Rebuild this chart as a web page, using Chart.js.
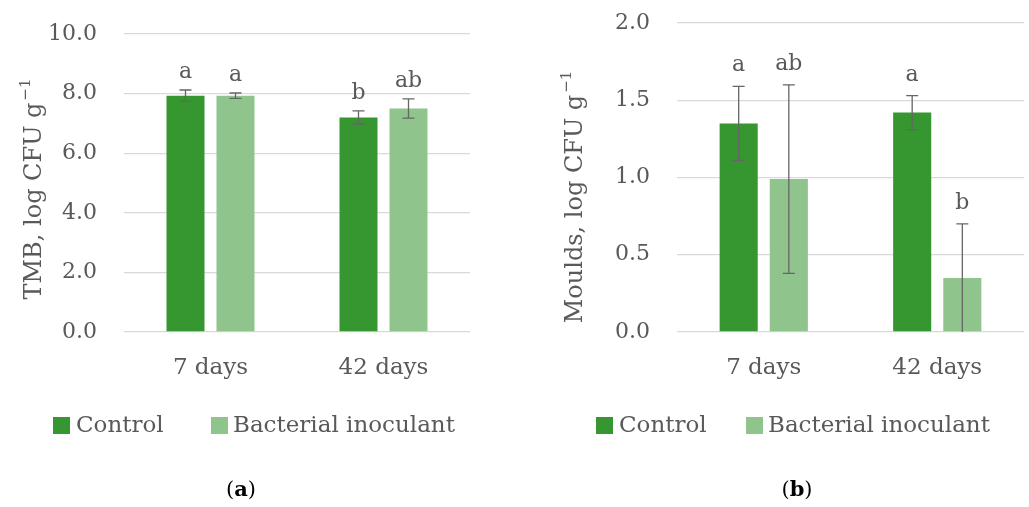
<!DOCTYPE html>
<html>
<head>
<meta charset="utf-8">
<title>TMB and moulds counts</title>
<script src="https://cdn.jsdelivr.net/npm/chart.js@4.4.1/dist/chart.umd.min.js"></script>
<style>
  html, body { margin: 0; padding: 0; background: #ffffff; }
  body { width: 1029px; height: 507px; position: relative; overflow: hidden; font-family: "DejaVu Serif", serif; }
  .panel { position: absolute; top: 0; }
  #wrapA { left: 0; width: 470px; height: 507px; }
  #wrapB { left: 545px; width: 479px; height: 507px; }
  .cap { position: absolute; top: 476px; font-size: 21px; color: #000; transform: translateX(-50%); white-space: nowrap; }
  .lg-box { position: absolute; top: 417px; width: 17px; height: 17px; }
  .lg-text { position: absolute; top: 410px; font-size: 23px; line-height: 28px; color: #595959; white-space: nowrap; }
</style>
</head>
<body>
<div class="panel" id="wrapA"><canvas id="chartA" width="470" height="507"></canvas></div>
<div class="panel" id="wrapB"><canvas id="chartB" width="479" height="507"></canvas></div>
<div id="legendA"></div>
<div id="legendB"></div>
<div class="cap" style="left:241px">(<b>a</b>)</div>
<div class="cap" style="left:797px">(<b>b</b>)</div>
<script>
// Sampling times and treatments
const categories = ['7 days', '42 days'];
const seriesNames = ['Control', 'Bacterial inoculant'];

// Total mesophilic bacteria, log CFU g-1 (mean, SD, letters)
const tmbControl = [7.93, 7.20];
const tmbControlSd = [0.19, 0.22];
const tmbControlLetters = ['a', 'b'];
const tmbInoculant = [7.93, 7.50];
const tmbInoculantSd = [0.09, 0.32];
const tmbInoculantLetters = ['a', 'ab'];
const tmbTickLabels = ['0.0', '2.0', '4.0', '6.0', '8.0', '10.0'];

// Moulds, log CFU g-1 (mean, SD, letters)
const mouldControl = [1.35, 1.42];
const mouldControlSd = [0.24, 0.11];
const mouldControlLetters = ['a', 'a'];
const mouldInoculant = [0.99, 0.35];
const mouldInoculantSd = [0.61, 0.35];
const mouldInoculantLetters = ['ab', 'b'];
const mouldTickLabels = ['0.0', '0.5', '1.0', '1.5', '2.0'];

const DARK = '#36962f';
const LIGHT = '#8fc48c';
const TEXT = '#595959';
const FONT = 'DejaVu Serif';
const seriesColors = [DARK, LIGHT];

// Standard deviation whiskers plus significance letters above each bar
const errorBars = {
  id: 'errorBars',
  afterDatasetsDraw(chart, args, opts) {
    const ctx = chart.ctx;
    const y = chart.scales.y;
    chart.data.datasets.forEach((ds, di) => {
      const meta = chart.getDatasetMeta(di);
      meta.data.forEach((bar, i) => {
        const v = ds.data[i];
        const e = ds.sd[i];
        const hi = y.getPixelForValue(v + e);
        const loVal = v - e;
        const lo = y.getPixelForValue(Math.max(0, loVal));
        ctx.save();
        ctx.strokeStyle = '#666666';
        ctx.lineWidth = 1.3;
        ctx.beginPath();
        ctx.moveTo(bar.x, hi); ctx.lineTo(bar.x, lo);
        ctx.moveTo(bar.x - 6, hi); ctx.lineTo(bar.x + 6, hi);
        if (loVal > 0.001) { ctx.moveTo(bar.x - 6, lo); ctx.lineTo(bar.x + 6, lo); }
        ctx.stroke();
        ctx.fillStyle = TEXT;
        ctx.font = '22px "' + FONT + '"';
        ctx.textAlign = 'center';
        ctx.textBaseline = 'alphabetic';
        ctx.fillText(ds.letters[i], bar.x, hi - opts.gap);
        ctx.restore();
      });
    });
  }
};

// Rotated y-axis title with a raised "-1" exponent
const yTitle = {
  id: 'yTitle',
  afterDraw(chart, args, opts) {
    const ctx = chart.ctx;
    ctx.save();
    ctx.translate(opts.x, opts.y);
    ctx.rotate(-Math.PI / 2);
    ctx.fillStyle = TEXT;
    ctx.textBaseline = 'middle';
    ctx.textAlign = 'left';
    const mainFont = '24px "' + FONT + '"';
    const supFont = '15px "' + FONT + '"';
    ctx.font = mainFont;
    const w1 = ctx.measureText(opts.text).width;
    ctx.font = supFont;
    const w2 = ctx.measureText(opts.sup).width;
    const start = -(w1 + 2 + w2) / 2;
    ctx.font = mainFont;
    ctx.fillText(opts.text, start, 0);
    ctx.font = supFont;
    ctx.fillText(opts.sup, start + w1 + 2, -9);
    ctx.restore();
  }
};

function buildChart(id, cfg) {
  return new Chart(document.getElementById(id), {
    type: 'bar',
    data: {
      labels: categories,
      datasets: [
        { label: seriesNames[0], data: cfg.control, sd: cfg.controlSd, letters: cfg.controlLetters,
          backgroundColor: DARK, borderWidth: 0 },
        { label: seriesNames[1], data: cfg.inoculant, sd: cfg.inoculantSd, letters: cfg.inoculantLetters,
          backgroundColor: LIGHT, borderWidth: 0 }
      ]
    },
    options: {
      responsive: false,
      animation: false,
      events: [],
      layout: { padding: { left: 0, right: 0, top: cfg.padTop, bottom: 120 } },
      datasets: { bar: { categoryPercentage: 0.578, barPercentage: 0.76 } },
      scales: {
        x: {
          grid: { display: false },
          border: { display: false },
          ticks: { color: TEXT, font: { family: FONT, size: 23 }, padding: 14 },
          afterFit(s) { s.height = 55; }
        },
        y: {
          min: 0,
          max: cfg.max,
          ticks: {
            stepSize: cfg.step,
            color: TEXT,
            font: { family: FONT, size: 22 },
            padding: 27,
            callback: (v, i) => cfg.tickLabels[i]
          },
          grid: { color: '#d9d9d9', lineWidth: 1.3, drawTicks: false },
          border: { display: false },
          afterFit(s) {
            s.width = cfg.yWidth;
            // top/bottom room is set by the layout padding alone
            s.paddingTop = 0;
            s.paddingBottom = 0;
          }
        }
      },
      plugins: {
        legend: { display: false },
        tooltip: { enabled: false },
        errorBars: { gap: cfg.gap },
        yTitle: { text: cfg.title, sup: '\u22121', x: cfg.titleX, y: cfg.titleY }
      }
    },
    plugins: [errorBars, yTitle]
  });
}

// Legend row under each panel: colour swatch followed by the series name
function buildLegend(id, boxLefts, textLefts) {
  const host = document.getElementById(id);
  seriesNames.forEach((name, i) => {
    const box = document.createElement('div');
    box.className = 'lg-box';
    box.style.left = boxLefts[i] + 'px';
    box.style.background = seriesColors[i];
    const txt = document.createElement('div');
    txt.className = 'lg-text';
    txt.style.left = textLefts[i] + 'px';
    txt.textContent = name;
    host.appendChild(box);
    host.appendChild(txt);
  });
}

buildChart('chartA', {
  control: tmbControl, controlSd: tmbControlSd, controlLetters: tmbControlLetters,
  inoculant: tmbInoculant, inoculantSd: tmbInoculantSd, inoculantLetters: tmbInoculantLetters,
  tickLabels: tmbTickLabels, max: 10, step: 2,
  yWidth: 124, padTop: 34, gap: 12,
  title: 'TMB, log CFU g', titleX: 35, titleY: 189
});

buildChart('chartB', {
  control: mouldControl, controlSd: mouldControlSd, controlLetters: mouldControlLetters,
  inoculant: mouldInoculant, inoculantSd: mouldInoculantSd, inoculantLetters: mouldInoculantLetters,
  tickLabels: mouldTickLabels, max: 2, step: 0.5,
  yWidth: 132, padTop: 23, gap: 15,
  title: 'Moulds, log CFU g', titleX: 31, titleY: 197
});

buildLegend('legendA', [53, 211], [76, 233]);
buildLegend('legendB', [596, 746], [619, 768]);
</script>
</body>
</html>
